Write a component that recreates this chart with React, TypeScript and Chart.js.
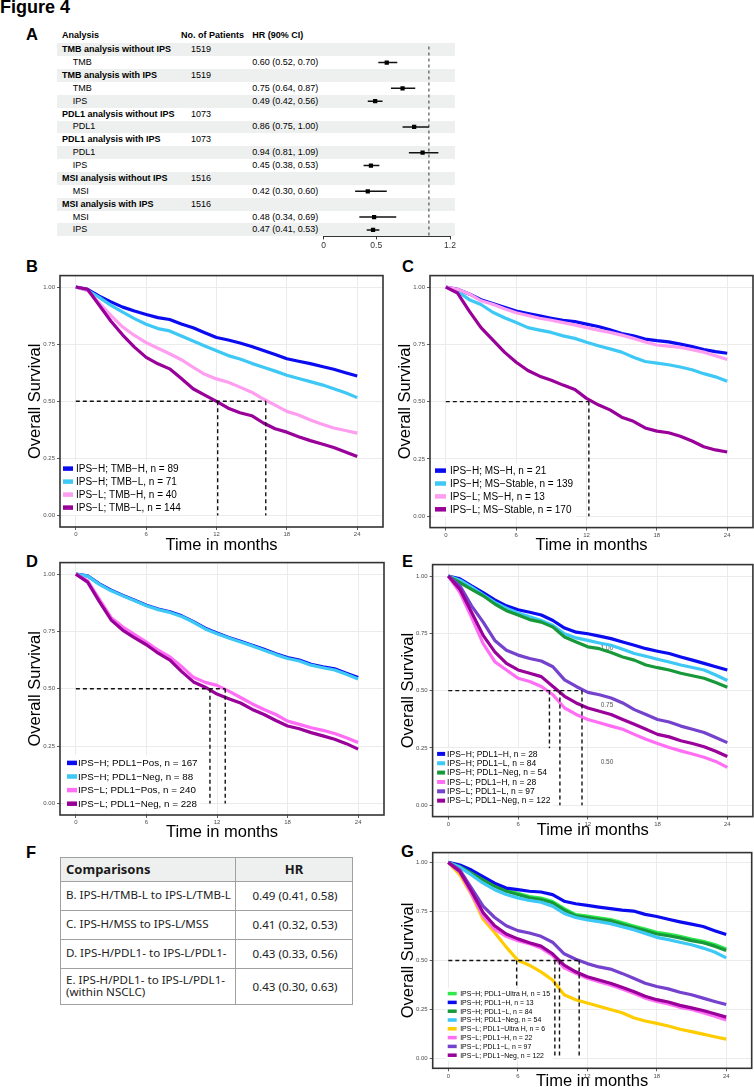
import React, { useEffect, useRef } from "react";
import { Chart, registerables } from "chart.js";

Chart.register(...registerables);

const FONT = '"Liberation Sans", Arial, Helvetica, sans-serif';
const TABLE_FONT = '"Noto Sans", "Open Sans", sans-serif';

/* ---------------- Panel A (forest plot) data ---------------- */
const A_LABELS = [
  "TMB analysis without IPS", "TMB", "TMB analysis with IPS", "TMB", "IPS",
  "PDL1 analysis without IPS", "PDL1", "PDL1 analysis with IPS", "PDL1", "IPS",
  "MSI analysis without IPS", "MSI", "MSI analysis with IPS", "MSI", "IPS",
];
const A_BOLD = [true, false, true, false, false, true, false, true, false, false, true, false, true, false, false];
const A_PATIENTS = ["1519", "", "1519", "", "", "1073", "", "1073", "", "", "1516", "", "1516", "", ""];
const A_HR = [null, 0.60, null, 0.75, 0.49, null, 0.86, null, 0.94, 0.45, null, 0.42, null, 0.48, 0.47];
const A_LO = [null, 0.52, null, 0.64, 0.42, null, 0.75, null, 0.81, 0.38, null, 0.30, null, 0.34, 0.41];
const A_HI = [null, 0.70, null, 0.87, 0.56, null, 1.00, null, 1.09, 0.53, null, 0.60, null, 0.69, 0.53];
const A_TICKS = [0, 0.5, 1.2];
const A_REF = 1;

/* ---------------- KM shared ---------------- */
const MONTHS = [0, 1, 2, 3, 4, 5, 6, 7, 8, 9, 10, 11, 12, 13, 14, 15, 16, 17, 18, 19, 20, 21, 22, 23, 24];
const X_TICKS = [0, 6, 12, 18, 24];
const Y_TICKS = [0, 0.25, 0.5, 0.75, 1];

/* ---------------- Panel B ---------------- */
const B_LABELS = ["IPS\u2212H; TMB\u2212H, n = 89", "IPS\u2212H; TMB\u2212L, n = 71", "IPS\u2212L; TMB\u2212H, n = 40", "IPS\u2212L; TMB\u2212L, n = 144"];
const B_IPSH_TMBH = [1, 0.99, 0.96, 0.935, 0.912, 0.895, 0.88, 0.866, 0.858, 0.838, 0.822, 0.8, 0.779, 0.768, 0.755, 0.74, 0.722, 0.705, 0.686, 0.675, 0.665, 0.652, 0.64, 0.625, 0.611];
const B_IPSH_TMBL = [1, 0.985, 0.955, 0.92, 0.89, 0.862, 0.837, 0.818, 0.808, 0.786, 0.764, 0.742, 0.721, 0.7, 0.685, 0.666, 0.649, 0.632, 0.614, 0.6, 0.586, 0.572, 0.555, 0.537, 0.516];
const B_IPSL_TMBH = [1, 0.985, 0.93, 0.875, 0.825, 0.788, 0.757, 0.732, 0.708, 0.682, 0.649, 0.618, 0.598, 0.583, 0.562, 0.54, 0.51, 0.483, 0.456, 0.44, 0.418, 0.4, 0.383, 0.372, 0.361];
const B_IPSL_TMBL = [1, 0.99, 0.92, 0.85, 0.79, 0.737, 0.692, 0.664, 0.642, 0.6, 0.555, 0.527, 0.5, 0.47, 0.45, 0.437, 0.405, 0.38, 0.365, 0.345, 0.328, 0.313, 0.298, 0.278, 0.258];
const B_MEDIANS = [12.1, 16.2];

/* ---------------- Panel C ---------------- */
const C_LABELS = ["IPS\u2212H; MS\u2212H, n = 21", "IPS\u2212H; MS\u2212Stable, n = 139", "IPS\u2212L; MS\u2212H, n = 13", "IPS\u2212L; MS\u2212Stable, n = 170"];
const C_IPSH_MSH = [1, 0.99, 0.97, 0.945, 0.928, 0.912, 0.895, 0.884, 0.874, 0.864, 0.855, 0.849, 0.838, 0.828, 0.813, 0.797, 0.787, 0.773, 0.766, 0.761, 0.751, 0.74, 0.727, 0.718, 0.711];
const C_IPSH_MSS = [1, 0.981, 0.945, 0.924, 0.89, 0.866, 0.845, 0.823, 0.812, 0.802, 0.787, 0.776, 0.759, 0.744, 0.73, 0.716, 0.694, 0.675, 0.668, 0.661, 0.651, 0.639, 0.622, 0.608, 0.589];
const C_IPSL_MSH = [1, 0.99, 0.97, 0.94, 0.925, 0.905, 0.888, 0.876, 0.864, 0.855, 0.845, 0.835, 0.823, 0.812, 0.802, 0.79, 0.776, 0.76, 0.747, 0.742, 0.737, 0.727, 0.716, 0.7, 0.684];
const C_IPSL_MSS = [1, 0.974, 0.895, 0.823, 0.769, 0.716, 0.672, 0.636, 0.611, 0.593, 0.572, 0.553, 0.514, 0.486, 0.464, 0.432, 0.414, 0.385, 0.371, 0.364, 0.349, 0.328, 0.303, 0.289, 0.28];
const C_MEDIANS = [12.2];

/* ---------------- Panel D ---------------- */
const D_LABELS = ["IPS\u2212H; PDL1\u2212Pos, n = 167", "IPS\u2212H; PDL1\u2212Neg, n = 88", "IPS\u2212L; PDL1\u2212Pos, n = 240", "IPS\u2212L; PDL1\u2212Neg, n = 228"];
const D_IPSH_POS = [1, 0.992, 0.957, 0.93, 0.907, 0.886, 0.864, 0.848, 0.836, 0.818, 0.793, 0.764, 0.743, 0.724, 0.707, 0.69, 0.672, 0.653, 0.636, 0.625, 0.607, 0.596, 0.587, 0.568, 0.549];
const D_IPSH_NEG = [1, 0.991, 0.955, 0.927, 0.905, 0.884, 0.862, 0.845, 0.833, 0.815, 0.79, 0.761, 0.74, 0.721, 0.704, 0.687, 0.668, 0.649, 0.632, 0.621, 0.603, 0.592, 0.582, 0.563, 0.543];
const D_IPSL_POS = [1, 0.97, 0.89, 0.81, 0.769, 0.736, 0.704, 0.668, 0.639, 0.596, 0.55, 0.528, 0.515, 0.49, 0.462, 0.434, 0.41, 0.388, 0.359, 0.345, 0.33, 0.319, 0.305, 0.287, 0.266];
const D_IPSL_NEG = [1, 0.965, 0.88, 0.8, 0.755, 0.722, 0.692, 0.655, 0.625, 0.575, 0.53, 0.507, 0.477, 0.457, 0.438, 0.41, 0.388, 0.362, 0.338, 0.326, 0.309, 0.295, 0.28, 0.261, 0.237];
const D_MEDIANS = [11.4, 12.7];

/* ---------------- Panel E ---------------- */
const E_LABELS = ["IPS\u2212H; PDL1\u2212H, n = 28", "IPS\u2212H; PDL1\u2212L, n = 84", "IPS\u2212H; PDL1\u2212Neg, n = 54", "IPS\u2212L; PDL1\u2212H, n = 28", "IPS\u2212L; PDL1\u2212L, n = 97", "IPS\u2212L; PDL1\u2212Neg, n = 122"];
const E_IPSH_H = [1, 0.988, 0.957, 0.928, 0.896, 0.87, 0.853, 0.842, 0.83, 0.806, 0.773, 0.755, 0.748, 0.738, 0.727, 0.712, 0.698, 0.683, 0.672, 0.662, 0.647, 0.633, 0.619, 0.604, 0.59];
const E_IPSH_L = [1, 0.982, 0.952, 0.918, 0.885, 0.86, 0.839, 0.822, 0.806, 0.784, 0.748, 0.73, 0.719, 0.708, 0.698, 0.68, 0.662, 0.65, 0.637, 0.625, 0.612, 0.601, 0.59, 0.568, 0.544];
const E_IPSH_NEG = [1, 0.971, 0.942, 0.914, 0.878, 0.849, 0.83, 0.81, 0.799, 0.777, 0.734, 0.712, 0.691, 0.683, 0.666, 0.647, 0.633, 0.612, 0.6, 0.59, 0.576, 0.565, 0.554, 0.535, 0.515];
const E_IPSL_H = [1, 0.928, 0.82, 0.705, 0.626, 0.59, 0.554, 0.54, 0.518, 0.482, 0.424, 0.396, 0.374, 0.36, 0.345, 0.331, 0.309, 0.288, 0.269, 0.252, 0.237, 0.223, 0.209, 0.191, 0.165];
const E_IPSL_L = [1, 0.957, 0.87, 0.799, 0.719, 0.676, 0.655, 0.64, 0.629, 0.604, 0.547, 0.518, 0.492, 0.482, 0.468, 0.446, 0.417, 0.396, 0.374, 0.363, 0.345, 0.331, 0.317, 0.295, 0.273];
const E_IPSL_NEG = [1, 0.942, 0.842, 0.741, 0.669, 0.619, 0.59, 0.576, 0.561, 0.518, 0.475, 0.446, 0.424, 0.41, 0.396, 0.374, 0.353, 0.331, 0.309, 0.298, 0.281, 0.269, 0.255, 0.235, 0.212];
const E_MEDIANS = [8.7, 9.6, 11.5];
const E_NOTE_X = [13.65, 13.65, 13.65];
const E_NOTE_Y = [0.686, 0.436, 0.186];
const E_NOTE_TEXT = ["1.00", "0.75", "0.50"];

/* ---------------- Panel G ---------------- */
const G_LABELS = ["IPS\u2212H; PDL1\u2212Ultra H, n = 15", "IPS\u2212H; PDL1\u2212H, n = 13", "IPS\u2212H; PDL1\u2212L, n = 84", "IPS\u2212H; PDL1\u2212Neg, n = 54", "IPS\u2212L; PDL1\u2212Ultra H, n = 6", "IPS\u2212L; PDL1\u2212H, n = 22", "IPS\u2212L; PDL1\u2212L, n = 97", "IPS\u2212L; PDL1\u2212Neg, n = 122"];
const G_IPSH_UH = [1, 0.98, 0.948, 0.915, 0.883, 0.858, 0.842, 0.826, 0.818, 0.8, 0.764, 0.734, 0.726, 0.717, 0.709, 0.693, 0.676, 0.66, 0.643, 0.634, 0.623, 0.609, 0.598, 0.581, 0.559];
const G_IPSH_H = [1, 0.987, 0.961, 0.928, 0.894, 0.869, 0.861, 0.853, 0.849, 0.836, 0.802, 0.789, 0.781, 0.772, 0.764, 0.757, 0.752, 0.735, 0.724, 0.71, 0.697, 0.685, 0.673, 0.652, 0.632];
const G_IPSH_L = [1, 0.978, 0.945, 0.911, 0.878, 0.853, 0.836, 0.819, 0.811, 0.794, 0.757, 0.727, 0.719, 0.71, 0.702, 0.685, 0.668, 0.652, 0.635, 0.626, 0.615, 0.601, 0.59, 0.573, 0.551];
const G_IPSH_NEG = [1, 0.975, 0.936, 0.894, 0.861, 0.836, 0.819, 0.806, 0.797, 0.777, 0.74, 0.719, 0.707, 0.698, 0.688, 0.672, 0.657, 0.638, 0.618, 0.606, 0.593, 0.58, 0.563, 0.543, 0.513];
const G_IPSL_UH = [1, 0.936, 0.836, 0.71, 0.643, 0.568, 0.501, 0.476, 0.442, 0.4, 0.325, 0.3, 0.283, 0.266, 0.25, 0.233, 0.208, 0.191, 0.179, 0.166, 0.149, 0.137, 0.124, 0.111, 0.099];
const G_IPSL_H = [1, 0.95, 0.84, 0.727, 0.66, 0.623, 0.601, 0.585, 0.563, 0.526, 0.462, 0.434, 0.409, 0.392, 0.375, 0.355, 0.333, 0.308, 0.291, 0.278, 0.261, 0.25, 0.233, 0.216, 0.196];
const G_IPSL_L = [1, 0.961, 0.869, 0.777, 0.719, 0.677, 0.652, 0.64, 0.623, 0.593, 0.534, 0.506, 0.484, 0.467, 0.456, 0.434, 0.409, 0.384, 0.367, 0.355, 0.338, 0.325, 0.308, 0.291, 0.275];
const G_IPSL_NEG = [1, 0.953, 0.853, 0.744, 0.677, 0.635, 0.61, 0.59, 0.573, 0.534, 0.476, 0.442, 0.417, 0.4, 0.384, 0.363, 0.342, 0.317, 0.3, 0.288, 0.271, 0.258, 0.245, 0.228, 0.211];
const G_MEDIANS = [5.9, 9.2, 9.6, 11.3];

/* ---------------- Panel F table ---------------- */
const F_COMPARISONS = ["B. IPS-H/TMB-L to IPS-L/TMB-L", "C. IPS-H/MSS to IPS-L/MSS", "D. IPS-H/PDL1- to IPS-L/PDL1-", "E. IPS-H/PDL1- to IPS-L/PDL1-\n(within NSCLC)"];
const F_HR = ["0.49 (0.41, 0.58)", "0.41 (0.32, 0.53)", "0.43 (0.33, 0.56)", "0.43 (0.30, 0.63)"];

/* ---------------- colours ---------------- */
const COL = {
  blue: "#0B0BF0",
  cyan: "#3EC8F6",
  pinkLight: "#FF9DF0",
  purple: "#990099",
  pink: "#FF6EF5",
  violet: "#7442CC",
  green: "#17993A",
  greenBright: "#2EE84C",
  yellow: "#FFCC00",
};

type Box = { l: number; t: number; r: number; b: number };
type Curve = { label: string; color: string; values: number[] };
type Leg = { x: number; y0: number; dy: number; fs: number; sw: number; sh: number; tx: number };

const Y_AXIS_W = 34.5;

function KMPanel(props: {
  box: Box; xAxisH: number; curves: Curve[]; medians: number[]; legend: Leg;
  notes?: { x: number[]; y: number[]; text: string[] };
}) {
  const { box, xAxisH, curves, medians, legend, notes } = props;
  const ref = useRef<HTMLCanvasElement | null>(null);
  const cl = Math.floor(box.l - Y_AXIS_W);
  const ct = Math.floor(box.t - 2);
  const cw = Math.ceil(box.r + 2) - cl;
  const ch = Math.ceil(box.b + xAxisH) - ct;

  useEffect(() => {
    if (!ref.current) return;
    const padding = {
      left: box.l - Y_AXIS_W - cl,
      top: box.t - ct,
      right: cl + cw - box.r,
      bottom: ct + ch - box.b - xAxisH,
    };
    const hEnd = Math.max(...medians);
    const dashSets: any[] = [
      [{ x: 0, y: 0.5 }, { x: hEnd, y: 0.5 }],
      ...medians.map((m) => [{ x: m, y: 0.5 }, { x: m, y: 0 }]),
    ].map((d) => ({
      data: d, showLine: true, borderColor: "#111", borderWidth: 1.4, borderDash: [4, 3],
      pointRadius: 0, order: 0, fill: false,
    }));
    const curveSets: any[] = curves.map((c, i) => ({
      label: c.label,
      data: MONTHS.map((m, j) => ({ x: m, y: c.values[j] })),
      showLine: true, borderColor: c.color, backgroundColor: c.color, borderWidth: 3.2,
      pointRadius: 0, tension: 0, order: 10 + curves.length - i, fill: false,
      borderJoinStyle: "round", borderCapStyle: "butt",
    }));

    const framePlugin = {
      id: "frame",
      afterDraw(chart: any) {
        const { ctx, chartArea: a } = chart;
        ctx.save();
        ctx.strokeStyle = "#333";
        ctx.lineWidth = 1.6;
        ctx.strokeRect(a.left, a.top, a.right - a.left, a.bottom - a.top);
        ctx.restore();
      },
    };
    const legendPlugin = {
      id: "kmLegend",
      afterDatasetsDraw(chart: any) {
        const { ctx, chartArea: a } = chart;
        ctx.save();
        ctx.font = `${legend.fs}px ${FONT}`;
        const maxW = Math.max(...curves.map((c) => ctx.measureText(c.label).width));
        const x0 = a.left + legend.x;
        const y0 = a.top + legend.y0;
        ctx.fillStyle = "#fff";
        ctx.fillRect(x0 - 2, y0 - legend.dy / 2 - 1, legend.tx - legend.x + maxW + 5, legend.dy * curves.length + 2);
        curves.forEach((c, i) => {
          const y = y0 + i * legend.dy;
          ctx.fillStyle = c.color;
          ctx.fillRect(x0, y - legend.sh / 2, legend.sw, legend.sh);
          ctx.fillStyle = "#000";
          ctx.textBaseline = "middle";
          ctx.textAlign = "left";
          ctx.fillText(c.label, a.left + legend.tx, y + 0.5);
        });
        ctx.restore();
      },
    };
    const notesPlugin = {
      id: "notes",
      beforeDatasetsDraw(chart: any) {
        if (!notes) return;
        const { ctx, scales } = chart;
        ctx.save();
        ctx.font = `6.5px ${FONT}`;
        ctx.fillStyle = "#555";
        ctx.textAlign = "center";
        ctx.textBaseline = "middle";
        notes.text.forEach((t, i) => {
          ctx.fillText(t, scales.x.getPixelForValue(notes.x[i]), scales.y.getPixelForValue(notes.y[i]));
        });
        ctx.restore();
      },
    };

    const gridCfg = { color: "#EBEBEB", lineWidth: 1, drawTicks: true, tickLength: 3, tickColor: "#333", tickWidth: 0.8 };
    const chart = new Chart(ref.current, {
      type: "scatter",
      data: { datasets: [...dashSets, ...curveSets] },
      options: {
        animation: false,
        responsive: true,
        maintainAspectRatio: false,
        events: [],
        layout: { padding },
        plugins: { legend: { display: false }, tooltip: { enabled: false } },
        scales: {
          x: {
            type: "linear", min: -1.35, max: 26.2,
            afterBuildTicks: (s: any) => { s.ticks = X_TICKS.map((v) => ({ value: v })); },
            afterFit: (s: any) => { s.height = xAxisH; },
            grid: gridCfg,
            border: { display: false },
            ticks: { font: { family: FONT, size: 6 }, color: "#4D4D4D", padding: 1, maxRotation: 0, autoSkip: false, callback: (v: any) => String(v) },
            title: { display: true, text: "Time in months", font: { family: FONT, size: 16.5 }, color: "#000", padding: 0 },
          },
          y: {
            type: "linear", min: -0.05, max: 1.05,
            afterBuildTicks: (s: any) => { s.ticks = Y_TICKS.map((v) => ({ value: v })); },
            afterFit: (s: any) => { s.width = Y_AXIS_W; },
            grid: gridCfg,
            border: { display: false },
            ticks: { font: { family: FONT, size: 6 }, color: "#4D4D4D", padding: 2, autoSkip: false, callback: (v: any) => Number(v).toFixed(2) },
            title: { display: true, text: "Overall Survival", font: { family: FONT, size: 16.5 }, color: "#000", padding: 0 },
          },
        },
      } as any,
      plugins: [notesPlugin, legendPlugin, framePlugin],
    } as any);
    return () => chart.destroy();
  }, []);

  return (
    <div style={{ position: "absolute", left: cl, top: ct, width: cw, height: ch }}>
      <canvas ref={ref} />
    </div>
  );
}

/* ---------------- Forest plot ---------------- */
const A_ROW_TOP = 43.3;
const A_ROW_H = 12.87;

function ForestChart() {
  const ref = useRef<HTMLCanvasElement | null>(null);
  const cl = 300, ct = 30, cw = 170, ch = 230;
  useEffect(() => {
    if (!ref.current) return;
    const bottom = A_ROW_TOP + A_LABELS.length * A_ROW_H;
    const xL = 323.5, xR = 450;
    const axisH = ct + ch - bottom;
    const ciSets: any[] = [];
    A_HR.forEach((hr, i) => {
      if (hr == null) return;
      ciSets.push({
        data: [{ x: A_LO[i], y: i + 1 }, { x: A_HI[i], y: i + 1 }],
        showLine: true, borderColor: "#111", borderWidth: 1.5, pointRadius: 0,
      });
    });
    const pts: any[] = [];
    A_HR.forEach((hr, i) => { if (hr != null) pts.push({ x: hr, y: i + 1 }); });
    const ptSet = { data: pts, pointStyle: "rect", pointRadius: 3, backgroundColor: "#000", borderWidth: 0, order: -1 };
    const refSet = {
      data: [{ x: A_REF, y: 0.75 }, { x: A_REF, y: 15.5 }],
      showLine: true, borderColor: "#333", borderWidth: 1, borderDash: [3, 3], pointRadius: 0, order: 5,
    };
    const chart = new Chart(ref.current, {
      type: "scatter",
      data: { datasets: [ptSet, ...ciSets, refSet] },
      options: {
        animation: false, responsive: true, maintainAspectRatio: false, events: [],
        layout: { padding: { left: xL - cl, right: cl + cw - xR, top: A_ROW_TOP - ct, bottom: 0 } },
        plugins: { legend: { display: false }, tooltip: { enabled: false } },
        scales: {
          x: {
            type: "linear", min: 0, max: 1.2,
            afterBuildTicks: (s: any) => { s.ticks = A_TICKS.map((v) => ({ value: v })); },
            afterFit: (s: any) => { s.height = axisH; },
            grid: { display: true, drawOnChartArea: false, drawTicks: true, tickLength: 3, tickColor: "#333", tickWidth: 1 },
            border: { display: true, color: "#333", width: 1 },
            ticks: { font: { family: FONT, size: 8.5 }, color: "#333", padding: 1, maxRotation: 0, autoSkip: false, callback: (v: any) => String(v) },
          },
          y: { type: "linear", min: 0.5, max: 15.5, reverse: true, display: false },
        },
      } as any,
    } as any);
    return () => chart.destroy();
  }, []);
  return (
    <div style={{ position: "absolute", left: cl, top: ct, width: cw, height: ch }}>
      <canvas ref={ref} />
    </div>
  );
}

function Txt(p: { x: number; cy: number; fs: number; text: string; bold?: boolean; family?: string; center?: boolean; color?: string; lh?: number }) {
  const lh = p.lh ?? p.fs;
  const lines = p.text.split("\n").length;
  return (
    <div
      style={{
        position: "absolute", left: p.x, top: p.cy - (lh * lines) / 2,
        fontSize: p.fs, lineHeight: lh + "px", fontFamily: p.family ?? FONT,
        fontWeight: p.bold ? 700 : 400, color: p.color ?? "#000", whiteSpace: "pre",
        transform: p.center ? "translateX(-50%)" : undefined, textAlign: p.center ? "center" : "left",
      }}
    >
      {p.text}
    </div>
  );
}

function PanelA() {
  const fs = 9;
  return (
    <>
      {A_LABELS.map((_, i) =>
        i % 2 === 0 ? (
          <div key={"bg" + i} style={{ position: "absolute", left: 57, width: 398, top: A_ROW_TOP + i * A_ROW_H, height: A_ROW_H, background: "#EEF0EF" }} />
        ) : null
      )}
      <Txt x={62} cy={35.7} fs={fs} bold text="Analysis" />
      <Txt x={181} cy={35.7} fs={fs} bold text="No. of Patients" />
      <Txt x={252.3} cy={35.7} fs={fs} bold text="HR (90% CI)" />
      {A_LABELS.map((lab, i) => {
        const cy = A_ROW_TOP + (i + 0.5) * A_ROW_H;
        const hr = A_HR[i];
        return (
          <React.Fragment key={"r" + i}>
            <Txt x={A_BOLD[i] ? 62 : 72.7} cy={cy} fs={fs} bold={A_BOLD[i]} text={lab} />
            {A_PATIENTS[i] ? <Txt x={191} cy={cy} fs={fs} text={A_PATIENTS[i]} /> : null}
            {hr != null ? (
              <Txt x={252.3} cy={cy} fs={fs} text={`${hr.toFixed(2)} (${(A_LO[i] as number).toFixed(2)}, ${(A_HI[i] as number).toFixed(2)})`} />
            ) : null}
          </React.Fragment>
        );
      })}
      <ForestChart />
    </>
  );
}

function PanelF() {
  const L = 60, R = 353, S = 235;
  const edges = [857, 881, 910, 939, 968, 1005];
  const line = "#A0A0A0";
  return (
    <>
      <div style={{ position: "absolute", left: L, top: edges[0], width: R - L, height: edges[1] - edges[0], background: "#EEF0EF" }} />
      <div style={{ position: "absolute", left: L, top: edges[0], width: R - L - 2, height: edges[5] - edges[0] - 2, border: `1px solid ${line}` }} />
      {edges.slice(1, 5).map((y, i) => (
        <div key={"h" + i} style={{ position: "absolute", left: L, top: y, width: R - L, height: 1, background: line }} />
      ))}
      <div style={{ position: "absolute", left: S, top: edges[0], width: 1, height: edges[5] - edges[0], background: line }} />
      <Txt x={66} cy={869} fs={13} bold family={TABLE_FONT} text="Comparisons" color="#1a1a1a" />
      <Txt x={(S + R) / 2} cy={869} fs={13} bold center family={TABLE_FONT} text="HR" color="#1a1a1a" />
      {F_COMPARISONS.map((t, i) => {
        const cy = (edges[i + 1] + edges[i + 2]) / 2;
        return (
          <React.Fragment key={"f" + i}>
            <Txt x={66} cy={cy} fs={11.6} lh={12.6} family={TABLE_FONT} text={t} color="#222" />
            <Txt x={(S + R) / 2 + 1} cy={cy} fs={11.6} center family={TABLE_FONT} text={F_HR[i]} color="#222" />
          </React.Fragment>
        );
      })}
    </>
  );
}

export default function App() {
  return (
    <div style={{ position: "absolute", left: 0, top: 0, width: 754, height: 1087, overflow: "hidden", background: "#fff", fontFamily: FONT }}>
      <Txt x={0} cy={7} fs={18} bold text="Figure 4" />
      <Txt x={26} cy={34.2} fs={16.5} bold text="A" />
      <Txt x={26} cy={266} fs={16.5} bold text="B" />
      <Txt x={402} cy={266} fs={16.5} bold text="C" />
      <Txt x={26} cy={561} fs={16.5} bold text="D" />
      <Txt x={402} cy={561} fs={16.5} bold text="E" />
      <Txt x={26} cy={852} fs={16.5} bold text="F" />
      <Txt x={401} cy={851} fs={16.5} bold text="G" />

      <PanelA />

      <KMPanel
        box={{ l: 60, t: 272, r: 383, b: 527 }}
        xAxisH={28}
        medians={B_MEDIANS}
        legend={{ x: 3, y0: 193, dy: 13, fs: 10, sw: 10, sh: 4.5, tx: 16 }}
        curves={[
          { label: B_LABELS[0], color: COL.blue, values: B_IPSH_TMBH },
          { label: B_LABELS[1], color: COL.cyan, values: B_IPSH_TMBL },
          { label: B_LABELS[2], color: COL.pinkLight, values: B_IPSL_TMBH },
          { label: B_LABELS[3], color: COL.purple, values: B_IPSL_TMBL },
        ]}
      />
      <KMPanel
        box={{ l: 430, t: 272.4, r: 753, b: 527.6 }}
        xAxisH={28}
        medians={C_MEDIANS}
        legend={{ x: 5, y0: 195, dy: 12.9, fs: 10, sw: 11, sh: 4.5, tx: 20 }}
        curves={[
          { label: C_LABELS[0], color: COL.blue, values: C_IPSH_MSH },
          { label: C_LABELS[1], color: COL.cyan, values: C_IPSH_MSS },
          { label: C_LABELS[2], color: COL.pinkLight, values: C_IPSL_MSH },
          { label: C_LABELS[3], color: COL.purple, values: C_IPSL_MSS },
        ]}
      />
      <KMPanel
        box={{ l: 60, t: 559.7, r: 384, b: 815 }}
        xAxisH={27}
        medians={D_MEDIANS}
        legend={{ x: 7, y0: 200.3, dy: 13.6, fs: 9.8, sw: 10, sh: 4.5, tx: 18 }}
        curves={[
          { label: D_LABELS[0], color: COL.blue, values: D_IPSH_POS },
          { label: D_LABELS[1], color: COL.cyan, values: D_IPSH_NEG },
          { label: D_LABELS[2], color: COL.pink, values: D_IPSL_POS },
          { label: D_LABELS[3], color: COL.purple, values: D_IPSL_NEG },
        ]}
      />
      <KMPanel
        box={{ l: 432.6, t: 561.7, r: 752.9, b: 816.6 }}
        xAxisH={24}
        medians={E_MEDIANS}
        legend={{ x: 4.5, y0: 189.3, dy: 9.35, fs: 8.5, sw: 8, sh: 4, tx: 14.5 }}
        notes={{ x: E_NOTE_X, y: E_NOTE_Y, text: E_NOTE_TEXT }}
        curves={[
          { label: E_LABELS[0], color: COL.blue, values: E_IPSH_H },
          { label: E_LABELS[1], color: COL.cyan, values: E_IPSH_L },
          { label: E_LABELS[2], color: COL.green, values: E_IPSH_NEG },
          { label: E_LABELS[3], color: COL.pink, values: E_IPSL_H },
          { label: E_LABELS[4], color: COL.violet, values: E_IPSL_L },
          { label: E_LABELS[5], color: COL.purple, values: E_IPSL_NEG },
        ]}
      />
      <KMPanel
        box={{ l: 432.7, t: 849, r: 751.7, b: 1068.3 }}
        xAxisH={23}
        medians={G_MEDIANS}
        legend={{ x: 15, y0: 141, dy: 8.8, fs: 6.9, sw: 9, sh: 3.5, tx: 27.5 }}
        curves={[
          { label: G_LABELS[0], color: COL.greenBright, values: G_IPSH_UH },
          { label: G_LABELS[1], color: COL.blue, values: G_IPSH_H },
          { label: G_LABELS[2], color: COL.green, values: G_IPSH_L },
          { label: G_LABELS[3], color: COL.cyan, values: G_IPSH_NEG },
          { label: G_LABELS[4], color: COL.yellow, values: G_IPSL_UH },
          { label: G_LABELS[5], color: COL.pink, values: G_IPSL_H },
          { label: G_LABELS[6], color: COL.violet, values: G_IPSL_L },
          { label: G_LABELS[7], color: COL.purple, values: G_IPSL_NEG },
        ]}
      />

      <PanelF />
    </div>
  );
}
